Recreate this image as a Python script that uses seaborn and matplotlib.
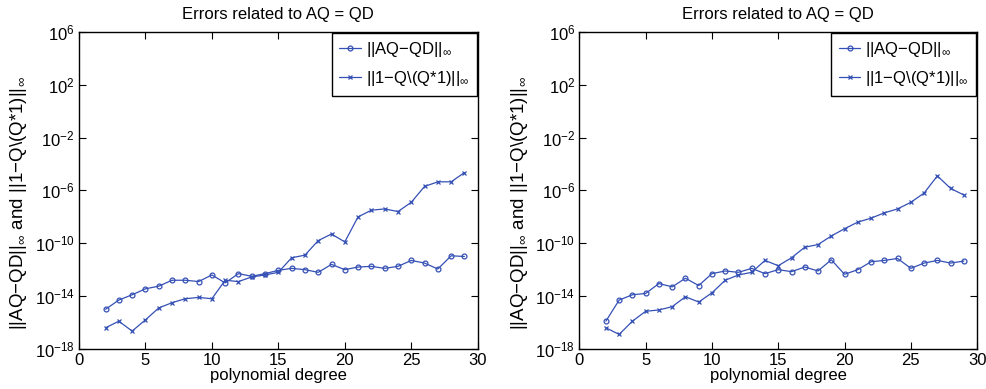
import numpy as np
import pandas as pd
import matplotlib
matplotlib.use("Agg")
import matplotlib.pyplot as plt
import seaborn as sns

# ==========================================================
# Data (log10 of the errors)
# ==========================================================
degree = list(range(2, 30))

left_aq_qd = [-15.0, -14.3, -13.9, -13.45, -13.25, -12.8, -12.8, -12.9, -12.4, -13.0,
              -12.3, -12.5, -12.3, -12.05, -11.9, -12.0, -12.2, -11.6, -12.0, -11.8,
              -11.75, -11.9, -11.75, -11.3, -11.5, -11.95, -10.95, -11.0]
left_one_q = [-16.4, -15.9, -16.65, -15.8, -14.9, -14.5, -14.2, -14.1, -14.2, -12.8,
              -12.9, -12.55, -12.4, -12.2, -11.1, -10.9, -9.8, -9.3, -9.9, -8.0,
              -7.5, -7.4, -7.6, -6.9, -5.7, -5.35, -5.35, -4.65]

right_aq_qd = [-15.9, -14.3, -13.9, -13.8, -13.05, -13.3, -12.65, -13.2, -12.3, -12.1,
               -12.2, -11.9, -12.3, -12.0, -12.15, -11.8, -12.1, -11.25, -12.35, -12.0,
               -11.4, -11.3, -11.15, -11.9, -11.5, -11.3, -11.5, -11.35]
right_one_q = [-16.4, -16.9, -15.9, -15.15, -15.05, -14.8, -14.05, -14.45, -13.75, -12.8,
               -12.4, -12.2, -11.3, -11.7, -11.1, -10.3, -10.1, -9.45, -8.9, -8.4,
               -8.1, -7.7, -7.4, -6.9, -6.2, -4.9, -5.85, -6.35]

label_aq = r"||AQ$-$QD||$_{\infty}$"
label_q = r"||1$-$Q\(Q*1)||$_{\infty}$"
ytick_exp = [6, 2, -2, -6, -10, -14, -18]

# ==========================================================
# Style
# ==========================================================
sns.set_style("ticks")
plt.rcParams["font.family"] = ["Liberation Sans", "DejaVu Sans"]
plt.rcParams["mathtext.fontset"] = "custom"
plt.rcParams["mathtext.rm"] = "Liberation Sans"
plt.rcParams["mathtext.it"] = "Liberation Sans:italic"
plt.rcParams["xtick.direction"] = "in"
plt.rcParams["ytick.direction"] = "in"
plt.rcParams["xtick.top"] = True
plt.rcParams["ytick.right"] = True
plt.rcParams["text.color"] = "black"
plt.rcParams["axes.labelcolor"] = "black"
plt.rcParams["axes.titlecolor"] = "black"

blue = "#3550b5"

fig = plt.figure(figsize=(9.87, 3.89), dpi=100)
ax1 = fig.add_axes([0.080, 0.103, 0.404, 0.815])
ax2 = fig.add_axes([0.587, 0.103, 0.403, 0.815])


def draw(ax, aq, oq):
    sns.lineplot(x=degree, y=np.power(10.0, aq), marker="o", color=blue, linewidth=0.9,
                 markersize=6, markerfacecolor="none", markeredgecolor=blue,
                 markeredgewidth=0.9, label=label_aq, ax=ax)
    sns.lineplot(x=degree, y=np.power(10.0, oq), marker="x", color=blue, linewidth=0.9,
                 markersize=4, markeredgecolor=blue, markeredgewidth=0.9,
                 label=label_q, ax=ax)
    ax.set_yscale("log")
    ax.set_xlim(0, 30)
    ax.set_ylim(1e-18, 1e6)
    ax.set_yticks([10.0 ** e for e in ytick_exp])
    ax.yaxis.set_minor_locator(matplotlib.ticker.NullLocator())
    ax.set_xticks([0, 5, 10, 15, 20, 25, 30])
    ax.tick_params(labelsize=12, length=5, width=0.8, pad=3, colors="black")
    for s in ax.spines.values():
        s.set_linewidth(1.0)
        s.set_color("black")
    ax.set_title("Errors related to AQ = QD", fontsize=12, pad=9)
    ax.set_xlabel("polynomial degree", fontsize=12, labelpad=0)
    ax.set_ylabel(r"||AQ$-$QD||$_{\infty}$ and ||1$-$Q\(Q*1)||$_{\infty}$", fontsize=13.5)
    ax.yaxis.set_label_coords(-0.125, 0.46)
    handles, labels = ax.get_legend_handles_labels()
    for h in handles:
        h.set_markersize(3.5)
    leg = ax.legend(handles, labels, loc="upper right", fontsize=12, fancybox=False,
                    edgecolor="black", framealpha=1, borderaxespad=0.05, handlelength=1.3,
                    handletextpad=0.3, borderpad=0.45, labelspacing=0.6)
    leg.get_frame().set_linewidth(1.0)


draw(ax1, left_aq_qd, left_one_q)
draw(ax2, right_aq_qd, right_one_q)

plt.savefig("out.png", dpi=100)
